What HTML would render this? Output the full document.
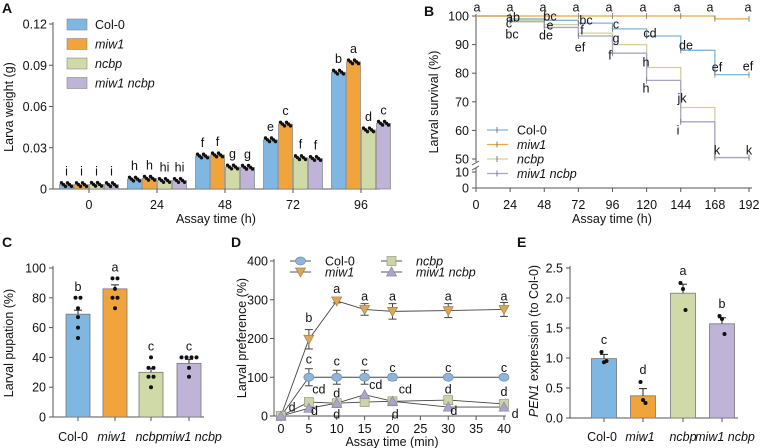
<!DOCTYPE html>
<html><head><meta charset="utf-8"><style>
body{margin:0;background:#fff}
svg{display:block;font-family:"Liberation Sans",Arial,sans-serif}
text{fill:#111}
</style></head><body>
<svg id="fig" width="760" height="448" viewBox="0 0 760 448" xmlns="http://www.w3.org/2000/svg"></svg>
<script>
// ---------- DATA ----------
const genotypes = ["Col-0","miw1","ncbp","miw1 ncbp"];
const italicG = [false,true,true,true];
const fills = ["#7fb7e2","#f2a43c","#d0daa8","#c0b3d8"];
const lineCols = ["#7fb3d9","#e8a848","#d2cfa0","#a9a6c2"];
// Panel A
const aTimes = ["0","24","48","72","96"];
const aCol0 = [0.0032,0.0072,0.0240,0.0358,0.0850];
const aMiw1 = [0.0032,0.0078,0.0248,0.0472,0.0925];
const aNcbp = [0.0034,0.0062,0.0160,0.0228,0.0430];
const aMiwNcbp = [0.0032,0.0062,0.0158,0.0222,0.0478];
const aLetters = [["i","i","i","i"],["h","h","hi","hi"],["f","f","g","g"],["e","c","f","f"],["b","a","d","c"]];
const aTicks = [0,0.03,0.06,0.09,0.12];
const aTickLabels = ["0","0.03","0.06","0.09","0.12"];
// Panel B
const bTimes = [0,24,48,72,96,120,144,168,192];
const bCol0 = [100,99,98.5,97.5,95.5,93,88,79.5,79.5];
const bMiw1 = [100,100,100,100,100,100,100,99,99];
const bNcbp = [100,98.5,97,94,90,82,68,50.5,50.5];
const bMiwNcbp = [100,98,96,93,87,77.5,63,50.5,50.5];
const bTicks = [50,60,70,80,90,100];
// Panel C
const cValues = [69,86,30,36];
const cLetters = ["b","a","c","c"];
const cPoints = [[53,60,67,73,80,80],[73,80,80,86,93,93],[20,27,27,33,33,40],[27,33,40,40,40,40]];
const cTicks = [0,20,40,60,80,100];
// Panel D
const dTimes = [0,5,10,15,20,30,40];
const dCol0 = [0,100,100,100,100,100,100];
const dMiw1 = [0,198,297,275,270,272,275];
const dNcbp = [0,36,33,36,38,41,31];
const dMiwNcbp = [0,20,33,55,38,23,23];
const dErrCol0 = [0,22,18,18,8,0,0];
const dErrMiw1 = [0,25,5,15,20,18,18];
const dTicks = [0,100,200,300,400];
const dXTicks = [0,5,10,15,20,25,30,35,40];
// Panel E
const eValues = [0.99,0.37,2.08,1.57];
const eErr = [0.07,0.12,0.15,0.10];
const eLetters = ["c","d","a","b"];
const ePoints = [[1.1,0.93,0.95],[0.6,0.3,0.25],[2.25,2.15,1.8],[1.7,1.65,1.4]];
const eTicks = [0,0.5,1.0,1.5,2.0,2.5];
const eTickLabels = ["0.0","0.5","1.0","1.5","2.0","2.5"];

// ---------- HELPERS ----------
const svg = document.getElementById('fig');
const NS = "http://www.w3.org/2000/svg";
const FS = 12.5;
function el(tag, attrs, parent){
  const e = document.createElementNS(NS, tag);
  for (const k in attrs) e.setAttribute(k, attrs[k]);
  (parent||svg).appendChild(e); return e;
}
function txt(x,y,s,size,anchor,parent,italic){
  const t = el('text',{x:x,y:y,'font-size':size,'text-anchor':anchor||'middle'},parent);
  if (italic) t.setAttribute('font-style','italic');
  t.textContent = s; return t;
}
function grp(name){
  const g = el('g',{});
  
  
  return g;
}
const AX = "#555";

// ---------- PANEL A ----------
(function(){
  const g = grp('panel-a');
  const x0=53, y0=189, yTop=24;
  const y = v => y0 - (v/0.12)*(y0-yTop);
  const cx = i => 89 + i*68;
  txt(2,13,"A",14,'start',g).setAttribute('font-weight','bold');
  el('line',{x1:x0,y1:yTop-2,x2:x0,y2:y0,stroke:AX,'stroke-width':1},g);
  el('line',{x1:x0,y1:y0,x2:380,y2:y0,stroke:AX,'stroke-width':1},g);
  aTicks.forEach((t,i)=>{
    el('line',{x1:x0-4,y1:y(t),x2:x0,y2:y(t),stroke:AX},g);
    txt(x0-6,y(t)+4.5,aTickLabels[i],FS,'end',g);
  });
  aTimes.forEach((s,i)=>{
    el('line',{x1:cx(i),y1:y0,x2:cx(i),y2:y0+4,stroke:AX},g);
    txt(cx(i),209,s,FS,'middle',g);
  });
  txt(216,223,"Assay time (h)",FS,'middle',g);
  const yt = txt(0,0,"Larva weight (g)",FS,'middle',g);
  yt.setAttribute('transform','translate(13,107) rotate(-90)');
  const series=[aCol0,aMiw1,aNcbp,aMiwNcbp];
  series.forEach((arr,s)=>{
    arr.forEach((v,i)=>{
      const bx = cx(i) - 30 + s*15;
      const r = el('rect',{x:bx+0.5,y:y(v),width:14,height:y0-y(v),fill:fills[s],stroke:"#777",'stroke-width':0.6},g);
      
      
      for(let k=0;k<6;k++){
        el('circle',{cx:bx+2.5+k*2,cy:y(v)+((k%3)-1)*1.8,r:1.7,fill:"#111"},g);
      }
      txt(bx+7.5,y(v)-9,aLetters[i][s],FS,'middle',g);
    });
  });
  genotypes.forEach((n,s)=>{
    const lg = el('g',{},g);
    
    
    el('rect',{x:67,y:19+s*19.5,width:20,height:11,fill:fills[s],stroke:"#888",'stroke-width':0.6},lg);
    txt(95,29+s*19.5,n,FS,'start',lg,italicG[s]);
  });
})();

// ---------- PANEL B ----------
(function(){
  const g = grp('panel-b');
  const x0=476, xs=(749-476)/192;
  const x = t => x0 + t*xs;
  const y = v => 16 + (100-v)*(159-16)/50;
  txt(424,16,"B",14,'start',g).setAttribute('font-weight','bold');
  el('line',{x1:x0,y1:14,x2:x0,y2:162,stroke:AX},g);
  el('line',{x1:x0,y1:168,x2:x0,y2:188,stroke:AX},g);
  el('line',{x1:x0-4,y1:165,x2:x0+3,y2:161,stroke:AX},g);
  el('line',{x1:x0-4,y1:170,x2:x0+3,y2:166,stroke:AX},g);
  el('line',{x1:x0,y1:188,x2:752,y2:188,stroke:AX},g);
  bTicks.forEach(t=>{
    el('line',{x1:x0-4,y1:y(t),x2:x0,y2:y(t),stroke:AX},g);
    txt(x0-7,y(t)+4.5,String(t),FS,'end',g);
  });
  [[10,172],[0,188]].forEach(p=>{
    el('line',{x1:x0-4,y1:p[1],x2:x0,y2:p[1],stroke:AX},g);
    txt(x0-7,p[1]+4.5,String(p[0]),FS,'end',g);
  });
  bTimes.forEach(t=>{
    el('line',{x1:x(t),y1:188,x2:x(t),y2:192,stroke:AX},g);
    txt(x(t),209,String(t),FS,'middle',g);
  });
  txt(612,223,"Assay time (h)",FS,'middle',g);
  const yt = txt(0,0,"Larval survival (%)",FS,'middle',g);
  yt.setAttribute('transform','translate(438,102) rotate(-90)');
  const series=[bCol0,bMiw1,bNcbp,bMiwNcbp];
  [2,3,0,1].forEach(s=>{
    const arr=series[s];
    let d="M"+x(bTimes[0])+","+y(arr[0]);
    for(let i=1;i<bTimes.length;i++){
      d+=" H"+x(bTimes[i])+" V"+y(arr[i]);
    }
    const p=el('path',{d:d,fill:'none',stroke:lineCols[s],'stroke-width':1.3},g);
    
    
    for(let i=1;i<bTimes.length;i++){
      el('line',{x1:x(bTimes[i]),y1:y(arr[i])-3,x2:x(bTimes[i]),y2:y(arr[i])+3,stroke:"#777",'stroke-width':0.8},g);
    }
  });
  const letters=[["a",477,7],["a",510,7],["a",543,7],["a",576,7],["a",609,7],["a",643,7],["a",677,7],["a",710,7],["a",748,7],
    ["ab",513,17],["c",509,23],["bc",512,34],["bc",550,16],["e",550,25],["de",546,35],["bc",586,20],["f",582,30],["ef",580,47],
    ["c",616,24],["g",616,38],["f",610,55],["cd",650,33],["h",646,62],["h",646,88],["de",686,45],["jk",682,98],["i",678,130],
    ["ef",717,67],["k",717,150],["ef",748,66],["k",749,150]];
  letters.forEach(l=>txt(l[1],l[2]+4.5,l[0],FS,'middle',g));
  genotypes.forEach((n,s)=>{
    const lg = el('g',{},g);
    
    
    const yy=130+s*14.5;
    el('line',{x1:487,y1:yy,x2:508,y2:yy,stroke:lineCols[s],'stroke-width':1.3},lg);
    el('line',{x1:497,y1:yy-3,x2:497,y2:yy+3,stroke:"#666",'stroke-width':0.8},lg);
    txt(517,yy+4.5,n,FS,'start',lg,italicG[s]);
  });
})();

// ---------- PANEL C ----------
(function(){
  const g = grp('panel-c');
  const x0=53, y0=417, yTop=268;
  const y = v => y0 - v/100*(y0-yTop);
  const cx=[78,115,151,189];
  const lx=[73,112,149,192];
  txt(2,247,"C",14,'start',g).setAttribute('font-weight','bold');
  el('line',{x1:x0,y1:yTop-2,x2:x0,y2:y0,stroke:AX},g);
  el('line',{x1:x0,y1:y0,x2:204,y2:y0,stroke:AX},g);
  cTicks.forEach(t=>{
    el('line',{x1:x0-4,y1:y(t),x2:x0,y2:y(t),stroke:AX},g);
    txt(x0-7,y(t)+4.5,String(t),FS,'end',g);
  });
  const yt = txt(0,0,"Larval pupation (%)",FS,'middle',g);
  yt.setAttribute('transform','translate(13,343) rotate(-90)');
  cValues.forEach((v,i)=>{
    const r=el('rect',{x:cx[i]-12,y:y(v),width:24,height:y0-y(v),fill:fills[i],stroke:"#777",'stroke-width':0.8},g);
    
    
    el('line',{x1:cx[i],y1:y(v),x2:cx[i],y2:y(v)-4,stroke:"#222"},g);
    el('line',{x1:cx[i]-4,y1:y(v)-4,x2:cx[i]+4,y2:y(v)-4,stroke:"#222"},g);
    el('line',{x1:cx[i],y1:y0,x2:cx[i],y2:y0+4,stroke:AX},g);
    const seen={};
    cPoints[i].forEach(p=>{
      seen[p]=(seen[p]||0)+1;
      const cnt=cPoints[i].filter(q=>q===p).length;
      const off = cnt>1 ? (seen[p]-(cnt+1)/2)*5 : 0;
      el('circle',{cx:cx[i]+off,cy:y(p),r:2,fill:"#111"},g);
    });
    txt(cx[i],y(Math.max(v,...cPoints[i]))-7,cLetters[i],FS,'middle',g);
    txt(lx[i],441,genotypes[i],FS,'middle',g,italicG[i]);
  });
})();

// ---------- PANEL D ----------
(function(){
  const g = grp('panel-d');
  const yAx=274, x = t => 281 + t*(504-281)/40;
  const y = v => 416 - v*(416-261)/400;
  txt(231,247,"D",14,'start',g).setAttribute('font-weight','bold');
  el('line',{x1:yAx,y1:259,x2:yAx,y2:416,stroke:AX},g);
  el('line',{x1:yAx,y1:416,x2:506,y2:416,stroke:AX},g);
  dTicks.forEach(t=>{
    el('line',{x1:yAx-4,y1:y(t),x2:yAx,y2:y(t),stroke:AX},g);
    txt(yAx-6,y(t)+4.5,String(t),FS,'end',g);
  });
  dXTicks.forEach(t=>{
    el('line',{x1:x(t),y1:416,x2:x(t),y2:420,stroke:AX},g);
    txt(x(t),433,String(t),FS,'middle',g);
  });
  txt(392,446,"Assay time (min)",FS,'middle',g);
  const yt = txt(0,0,"Larval preference (%)",FS,'middle',g);
  yt.setAttribute('transform','translate(246,338) rotate(-90)');
  const series=[dCol0,dMiw1,dNcbp,dMiwNcbp];
  const errs=[dErrCol0,dErrMiw1,null,null];
  const mcol=["#8fb5d8","#d9a860","#cdd3a8","#aaa6c8"];
  function marker(s,px,py,par){
    if(s===0) return el('ellipse',{cx:px,cy:py,rx:5,ry:4,fill:mcol[0],stroke:"#6b8fb0",'stroke-width':0.7},par);
    if(s===1) return el('path',{d:`M${px-5},${py-4} L${px+5},${py-4} L${px},${py+5} Z`,fill:mcol[1],stroke:"#a88040",'stroke-width':0.7},par);
    if(s===2) return el('rect',{x:px-4.5,y:py-4.5,width:9,height:9,fill:mcol[2],stroke:"#9a9a80",'stroke-width':0.7},par);
    return el('path',{d:`M${px-5},${py+4} L${px+5},${py+4} L${px},${py-5} Z`,fill:mcol[3],stroke:"#8a86a8",'stroke-width':0.7},par);
  }
  series.forEach((arr,s)=>{
    const pts=arr.map((v,i)=>x(dTimes[i])+","+y(v)).join(" ");
    const pl=el('polyline',{points:pts,fill:'none',stroke:"#444",'stroke-width':0.9},g);
    
    
  });
  series.forEach((arr,s)=>{
    arr.forEach((v,i)=>{
      if(errs[s] && errs[s][i]>0){
        const e=errs[s][i];
        el('line',{x1:x(dTimes[i]),y1:y(v-e),x2:x(dTimes[i]),y2:y(v+e),stroke:"#444"},g);
        el('line',{x1:x(dTimes[i])-4,y1:y(v-e),x2:x(dTimes[i])+4,y2:y(v-e),stroke:"#444"},g);
        el('line',{x1:x(dTimes[i])-4,y1:y(v+e),x2:x(dTimes[i])+4,y2:y(v+e),stroke:"#444"},g);
      }
      marker(s,x(dTimes[i]),y(v),g);
    });
  });
  const L=[["b",5,243],["a",10,318],["a",15,298],["a",20,298],["a",30,298],["a",40,298],
    ["c",5,135],["c",10,130],["c",15,130],["c",20,114],["c",30,114],["c",40,114],
    ["cd",6.8,58],["d",10,48],["cd",17,70],["cd",22.3,58],["d",30,58],["d",40,52],
    ["d",2,12],["d",6,2],["d",10,-6],["d",20.5,-6],["d",31,3],["d",42,-5]];
  L.forEach(l=>txt(x(l[1]),y(l[2]),l[0],FS,'middle',g));
  genotypes.forEach((n,s)=>{
    const lg = el('g',{},g);
    
    
    const lx = s<2?290:381, ly = 261+(s%2)*11;
    el('line',{x1:lx,y1:ly,x2:lx+21,y2:ly,stroke:"#555",'stroke-width':0.9},lg);
    marker(s,lx+10.5,ly,lg);
    txt(lx+35,ly+4.5,n,FS,'start',lg,italicG[s]);
  });
})();

// ---------- PANEL E ----------
(function(){
  const g = grp('panel-e');
  const x0=570, y0=418, yTop=268;
  const y = v => y0 - v/2.5*(y0-yTop);
  const cx=[604,643,683,722];
  const lx=[602,640,683,725];
  txt(517,247,"E",14,'start',g).setAttribute('font-weight','bold');
  el('line',{x1:x0,y1:yTop-2,x2:x0,y2:y0,stroke:AX},g);
  el('line',{x1:x0,y1:y0,x2:738,y2:y0,stroke:AX},g);
  eTicks.forEach((t,i)=>{
    el('line',{x1:x0-4,y1:y(t),x2:x0,y2:y(t),stroke:AX},g);
    txt(x0-7,y(t)+4.5,eTickLabels[i],FS,'end',g);
  });
  const yt = el('text',{'font-size':FS,'text-anchor':'middle',transform:'translate(538,341) rotate(-90)'},g);
  const sp=el('tspan',{'font-style':'italic'},yt); sp.textContent="PEN1";
  const sp2=el('tspan',{},yt); sp2.textContent=" expression (to Col-0)";
  eValues.forEach((v,i)=>{
    const r=el('rect',{x:cx[i]-12.5,y:y(v),width:25,height:y0-y(v),fill:fills[i],stroke:"#777",'stroke-width':0.8},g);
    
    
    const e=eErr[i];
    el('line',{x1:cx[i],y1:y(v),x2:cx[i],y2:y(v+e),stroke:"#222"},g);
    el('line',{x1:cx[i]-4,y1:y(v+e),x2:cx[i]+4,y2:y(v+e),stroke:"#222"},g);
    el('line',{x1:cx[i],y1:y0,x2:cx[i],y2:y0+4,stroke:AX},g);
    ePoints[i].forEach((p,k)=>el('circle',{cx:cx[i]+(k-1)*2.5,cy:y(p),r:2,fill:"#111"},g));
    txt(cx[i],y(Math.max(v+e,...ePoints[i]))-8,eLetters[i],FS,'middle',g);
    txt(lx[i],441,genotypes[i],FS,'middle',g,italicG[i]);
  });
})();
</script>
</body></html>
